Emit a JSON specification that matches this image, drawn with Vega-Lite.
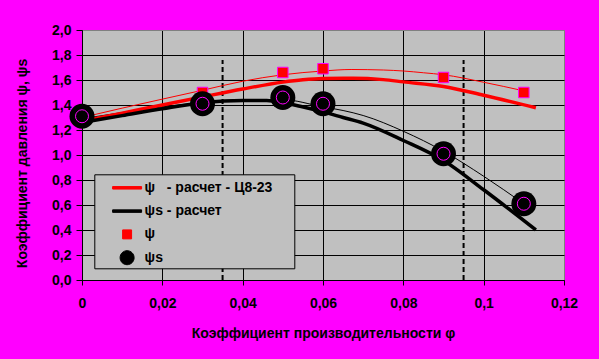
{
  "$schema": "https://vega.github.io/schema/vega-lite/v6.json",
  "width": 482,
  "height": 250,
  "autosize": {"type": "none"},
  "padding": {"left": 82, "top": 30, "right": 35, "bottom": 79},
  "background": "#ff00ff",
  "datasets": {
    "calc": [
      {"x": 0, "y": 1.27, "s": "ψ\u00a0\u00a0\u00a0- расчет - Ц8-23"},
      {"x": 0.01, "y": 1.335, "s": "ψ\u00a0\u00a0\u00a0- расчет - Ц8-23"},
      {"x": 0.02, "y": 1.40, "s": "ψ\u00a0\u00a0\u00a0- расчет - Ц8-23"},
      {"x": 0.03, "y": 1.465, "s": "ψ\u00a0\u00a0\u00a0- расчет - Ц8-23"},
      {"x": 0.04, "y": 1.528, "s": "ψ\u00a0\u00a0\u00a0- расчет - Ц8-23"},
      {"x": 0.05, "y": 1.583, "s": "ψ\u00a0\u00a0\u00a0- расчет - Ц8-23"},
      {"x": 0.055, "y": 1.602, "s": "ψ\u00a0\u00a0\u00a0- расчет - Ц8-23"},
      {"x": 0.06, "y": 1.612, "s": "ψ\u00a0\u00a0\u00a0- расчет - Ц8-23"},
      {"x": 0.0675, "y": 1.614, "s": "ψ\u00a0\u00a0\u00a0- расчет - Ц8-23"},
      {"x": 0.075, "y": 1.603, "s": "ψ\u00a0\u00a0\u00a0- расчет - Ц8-23"},
      {"x": 0.08, "y": 1.585, "s": "ψ\u00a0\u00a0\u00a0- расчет - Ц8-23"},
      {"x": 0.09, "y": 1.548, "s": "ψ\u00a0\u00a0\u00a0- расчет - Ц8-23"},
      {"x": 0.1, "y": 1.478, "s": "ψ\u00a0\u00a0\u00a0- расчет - Ц8-23"},
      {"x": 0.113, "y": 1.378, "s": "ψ\u00a0\u00a0\u00a0- расчет - Ц8-23"},
      {"x": 0, "y": 1.26, "s": "ψs - расчет"},
      {"x": 0.01, "y": 1.315, "s": "ψs - расчет"},
      {"x": 0.02, "y": 1.37, "s": "ψs - расчет"},
      {"x": 0.03, "y": 1.418, "s": "ψs - расчет"},
      {"x": 0.04, "y": 1.437, "s": "ψs - расчет"},
      {"x": 0.046, "y": 1.437, "s": "ψs - расчет"},
      {"x": 0.05, "y": 1.42, "s": "ψs - расчет"},
      {"x": 0.0543, "y": 1.39, "s": "ψs - расчет"},
      {"x": 0.06, "y": 1.345, "s": "ψs - расчет"},
      {"x": 0.065, "y": 1.30, "s": "ψs - расчет"},
      {"x": 0.07, "y": 1.255, "s": "ψs - расчет"},
      {"x": 0.08, "y": 1.116, "s": "ψs - расчет"},
      {"x": 0.09, "y": 0.956, "s": "ψs - расчет"},
      {"x": 0.1, "y": 0.722, "s": "ψs - расчет"},
      {"x": 0.113, "y": 0.40, "s": "ψs - расчет"}
    ],
    "trendA": [
      {"x": 0, "y": 1.30}, {"x": 0.01, "y": 1.375}, {"x": 0.02, "y": 1.447},
      {"x": 0.03, "y": 1.518}, {"x": 0.04, "y": 1.59}, {"x": 0.05, "y": 1.642},
      {"x": 0.06, "y": 1.672}, {"x": 0.067, "y": 1.684}, {"x": 0.075, "y": 1.68},
      {"x": 0.08, "y": 1.672}, {"x": 0.085, "y": 1.658}, {"x": 0.09, "y": 1.642},
      {"x": 0.1, "y": 1.582}, {"x": 0.11, "y": 1.513}
    ],
    "trendB": [
      {"x": 0, "y": 1.29}, {"x": 0.01, "y": 1.34}, {"x": 0.02, "y": 1.385},
      {"x": 0.03, "y": 1.42}, {"x": 0.04, "y": 1.442}, {"x": 0.05, "y": 1.442},
      {"x": 0.06, "y": 1.385}, {"x": 0.065, "y": 1.356}, {"x": 0.07, "y": 1.316},
      {"x": 0.08, "y": 1.19}, {"x": 0.09, "y": 1.03}, {"x": 0.1, "y": 0.83},
      {"x": 0.11, "y": 0.61}
    ],
    "ptsA": [
      {"x": 0, "y": 1.30}, {"x": 0.03, "y": 1.50}, {"x": 0.05, "y": 1.66},
      {"x": 0.06, "y": 1.69}, {"x": 0.09, "y": 1.62}, {"x": 0.11, "y": 1.50}
    ],
    "ptsB": [
      {"x": 0, "y": 1.31}, {"x": 0.03, "y": 1.41}, {"x": 0.05, "y": 1.46},
      {"x": 0.06, "y": 1.41}, {"x": 0.09, "y": 1.01}, {"x": 0.11, "y": 0.61}
    ],
    "dash": [
      {"x": 0.035, "y": 0, "y2": 1.76},
      {"x": 0.095, "y": 0, "y2": 1.76}
    ]
  },
  "encoding": {
    "x": {
      "field": "x", "type": "quantitative",
      "scale": {"domain": [0, 0.12], "nice": false, "zero": false},
      "axis": {
        "title": "Коэффициент производительности φ",
        "values": [0, 0.02, 0.04, 0.06, 0.08, 0.1, 0.12],
        "labelExpr": "replace(format(datum.value, '~g'), '.', ',')",
        "tickSize": 5, "labelPadding": 11, "titlePadding": 16,
        "labelFlush": false, "labelOverlap": false,
        "grid": true,
        "gridColor": {"condition": {"test": "datum.value > 0.119", "value": "#808080"}, "value": "black"}
      }
    },
    "y": {
      "field": "y", "type": "quantitative",
      "scale": {"domain": [0, 2], "nice": false},
      "axis": {
        "title": "Коэффициент давления ψ, ψs",
        "values": [0, 0.2, 0.4, 0.6, 0.8, 1, 1.2, 1.4, 1.6, 1.8, 2],
        "labelExpr": "replace(format(datum.value, '.1f'), '.', ',')",
        "tickSize": 6, "labelPadding": 5,
        "labelFlush": false, "labelOverlap": false,
        "titleAngle": 270, "titleX": -56, "titleY": 133,
        "titleAlign": "center", "titleBaseline": "alphabetic",
        "grid": true,
        "gridColor": {"condition": {"test": "datum.value > 1.99", "value": "#808080"}, "value": "black"}
      }
    }
  },
  "layer": [
    {
      "data": {"name": "dash"},
      "mark": {"type": "rule", "color": "black", "strokeWidth": 2, "strokeDash": [5, 3]},
      "encoding": {"y2": {"field": "y2"}}
    },
    {
      "data": {"name": "trendA"},
      "mark": {"type": "line", "color": "#ff0000", "strokeWidth": 1, "interpolate": "monotone"}
    },
    {
      "data": {"name": "trendB"},
      "mark": {"type": "line", "color": "black", "strokeWidth": 1, "interpolate": "monotone"}
    },
    {
      "data": {"name": "calc"},
      "mark": {"type": "line", "strokeWidth": 3.5, "interpolate": "monotone"},
      "encoding": {
        "color": {
          "field": "s", "type": "nominal",
          "scale": {
            "domain": ["ψ\u00a0\u00a0\u00a0- расчет - Ц8-23", "ψs - расчет", "ψ", "ψs"],
            "range": ["#ff0000", "#000000", "#ff0000", "#000000"]
          },
          "legend": {
            "orient": "none", "legendX": 12.3, "legendY": 144.3,
            "title": null,
            "fillColor": "#c0c0c0", "strokeColor": "black",
            "padding": 1.5, "rowPadding": 4.3,
            "symbolSize": 529, "symbolStrokeWidth": 1,
            "symbolOffset": 19.3, "labelOffset": 5.5, "labelLimit": 300,
            "labelFontSize": 14, "labelFontWeight": "bold", "labelColor": "black",
            "labelExpr": "length(datum.label) > 12 ? datum.label + '\u00a0\u00a0\u00a0\u00a0\u00a0\u200b' : datum.label",
            "encode": {
              "symbols": {
                "update": {
                  "shape": {"signal": "datum.index < 2 ? 'M-1.261,-0.109H1.261V0.109H-1.261Z' : datum.index == 2 ? 'M-0.39,-0.39H0.39V0.39H-0.39Z' : 'M0.61,0A0.61,0.61,0,1,1,-0.61,0A0.61,0.61,0,1,1,0.61,0Z'"},
                  "fill": {"signal": "datum.index == 0 || datum.index == 2 ? '#ff0000' : '#000000'"},
                  "stroke": {"signal": "datum.index == 0 ? '#ff0000' : datum.index == 2 ? '#ff00ff' : '#000000'"},
                  "strokeWidth": {"value": 1},
                  "size": {"value": 529},
                  "opacity": {"value": 1}
                }
              }
            }
          }
        }
      }
    },
    {
      "data": {"name": "ptsA"},
      "mark": {"type": "point", "shape": "square", "filled": true, "fill": "#ff0000", "stroke": "#ff00ff", "strokeWidth": 1, "size": 110, "opacity": 1}
    },
    {
      "data": {"name": "ptsB"},
      "mark": {"type": "point", "shape": "circle", "filled": true, "fill": "black", "size": 625, "opacity": 1}
    },
    {
      "data": {"name": "ptsB"},
      "mark": {"type": "point", "shape": "circle", "filled": false, "stroke": "#ff00ff", "strokeWidth": 1, "size": 169, "opacity": 1}
    }
  ],
  "config": {
    "font": "Liberation Sans",
    "view": {"fill": "#c0c0c0", "stroke": "#808080", "strokeWidth": 1},
    "axis": {
      "labelFont": "Liberation Sans", "labelFontSize": 14, "labelFontWeight": "bold", "labelColor": "black",
      "titleFont": "Liberation Sans", "titleFontSize": 14, "titleFontWeight": "bold", "titleColor": "black",
      "domainColor": "black", "domainWidth": 1, "tickColor": "black", "tickWidth": 1,
      "gridOpacity": 1, "gridWidth": 1
    },
    "legend": {"labelFont": "Liberation Sans"}
  }
}
